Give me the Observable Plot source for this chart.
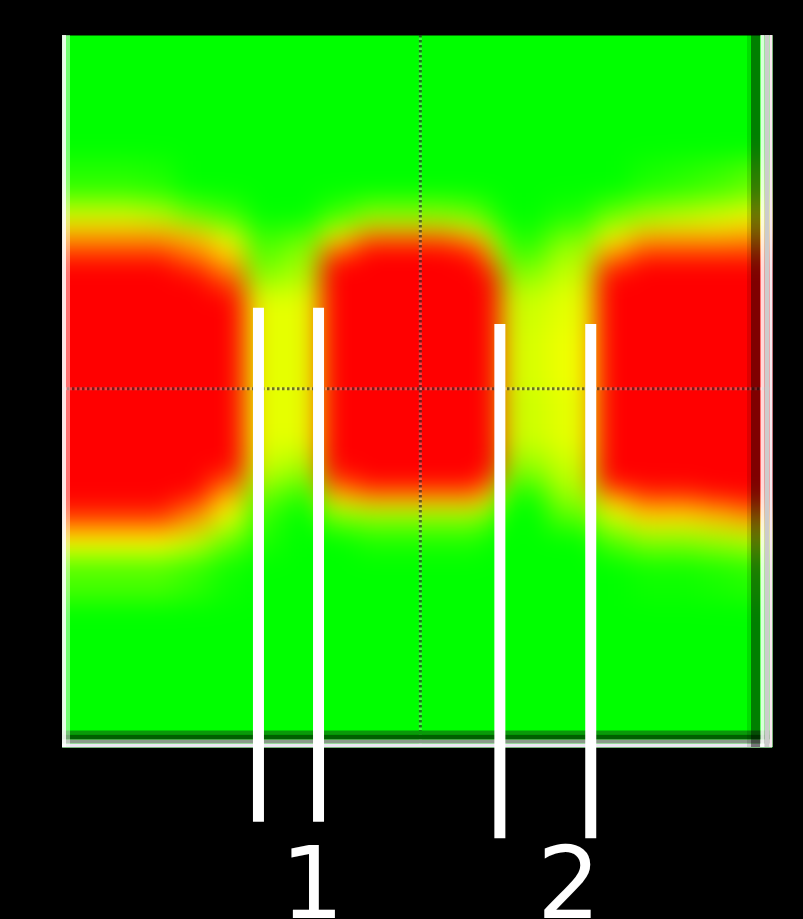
<!DOCTYPE html>
<html><head><meta charset="utf-8">
<style>html,body{margin:0;padding:0;background:#000;} svg{display:block}</style>
<script src="https://cdn.jsdelivr.net/npm/d3@7"></script>
<script src="https://cdn.jsdelivr.net/npm/@observablehq/plot@0.6"></script>
</head><body><div id="chart"></div>
<script>
// Field cell edges (0–100 field units; y measured from the top)
const colEdges = [0,5.35,10.99,15.92,20.85,25.77,30.99,36.34,41.27,46.2,50.42,55.35,59.58,61.69,68.31,75.07,80,84.93,89.86,94.79,100];
const rowEdges = [0,9.13,17.56,23.17,26.69,28.79,30.9,33.01,35.81,41.43,49.86,58.29,61.8,63.9,65.31,66.71,69.52,73.03,79.35,100];
// Intensity per cell (0 = green, 0.5 = yellow, >=1 = red)
const heat = [
  [0,0,0,0,0,0,0,0,0,0,0,0,0,0,0,0,0,0,0,0],
  [0,0,0,0,0,0,0,0,0,0,0,0,0,0,0,0,0,0,0,0],
  [0.08,0.08,0.06,0,0,0,0,0,0,0,0,0,0,0,0,0,0.05,0.08,0.12,0.18],
  [0.4,0.4,0.35,0.2,0.12,0,0,0.12,0.25,0.25,0.25,0.2,0.05,0,0.05,0.2,0.3,0.35,0.4,0.45],
  [0.65,0.65,0.65,0.6,0.4,0.1,0.15,0.45,0.65,0.65,0.65,0.55,0.3,0.05,0.2,0.45,0.6,0.6,0.6,0.65],
  [0.8,0.8,0.8,0.7,0.55,0.15,0.25,0.7,1.5,1.5,1.5,0.9,0.45,0.1,0.3,0.6,0.8,0.8,0.8,0.8],
  [1.5,1.5,1.5,0.85,0.65,0.2,0.3,1.5,1.5,1.5,1.5,1.5,0.7,0.2,0.35,0.85,1.5,1.5,1.5,1.5],
  [1.5,1.5,1.5,1.5,0.85,0.3,0.35,1.5,1.5,1.5,1.5,1.5,1.5,0.3,0.4,1.5,1.5,1.5,1.5,1.5],
  [1.5,1.5,1.5,1.5,1.5,0.45,0.45,1.5,1.5,1.5,1.5,1.5,1.5,0.4,0.45,1.5,1.5,1.5,1.5,1.5],
  [1.5,1.5,1.5,1.5,1.5,0.45,0.45,1.5,1.5,1.5,1.5,1.5,1.5,0.42,0.47,1.5,1.5,1.5,1.5,1.5],
  [1.5,1.5,1.5,1.5,1.5,0.45,0.45,1.5,1.5,1.5,1.5,1.5,1.5,0.4,0.45,1.5,1.5,1.5,1.5,1.5],
  [1.5,1.5,1.5,1.5,1.5,0.4,0.35,1.5,1.5,1.5,1.5,1.5,1.5,0.3,0.4,1.5,1.5,1.5,1.5,1.5],
  [1.5,1.5,1.5,1.5,0.8,0.3,0.2,0.85,1.5,1.5,1.5,1.5,0.7,0.15,0.35,1.5,1.5,1.5,1.5,1.5],
  [1.5,1.5,1.5,1.5,0.65,0.2,0.1,0.6,0.7,0.7,0.7,0.7,0.5,0.05,0.3,0.65,0.9,0.9,1.5,1.5],
  [1.5,1.5,1.5,0.8,0.55,0.15,0.05,0.45,0.55,0.55,0.55,0.55,0.35,0,0.25,0.55,0.7,0.7,0.75,0.9],
  [0.85,0.85,0.85,0.7,0.45,0.1,0,0.2,0.25,0.25,0.25,0.25,0.12,0,0.15,0.4,0.55,0.55,0.6,0.65],
  [0.5,0.5,0.5,0.4,0.2,0.05,0,0,0.05,0.05,0.05,0.05,0,0,0,0.15,0.25,0.25,0.3,0.35],
  [0.15,0.15,0.15,0.1,0.03,0,0,0,0,0,0,0,0,0,0,0,0.03,0.03,0.05,0.08],
  [0,0,0,0,0,0,0,0,0,0,0,0,0,0,0,0,0,0,0,0]
];
// White marker lines
const markerX = [27.6, 36.06, 61.6, 74.4];
const markerTop = [38.3, 38.3, 40.6, 40.6];
const markerBottom = [110.5, 110.5, 112.8, 112.8];
// Labels
const labels = ["1", "2"];
const labelX = [35.2, 71.3];
const labelY = [123.9, 123.9];
// Dotted centre guides
const guideX = [50.4];
const guideY = [49.6];

function cellValue(x, y) {
  const i = Math.max(0, Math.min(heat[0].length - 1, d3.bisectRight(colEdges, x) - 1));
  const j = Math.max(0, Math.min(heat.length - 1, d3.bisectRight(rowEdges, y) - 1));
  return heat[j][i];
}
const markers = markerX.map((x, i) => ({x, y1: markerTop[i], y2: markerBottom[i]}));
const labelData = labels.map((t, i) => ({t, x: labelX[i], y: labelY[i]}));

const chart = Plot.plot({
  width: 803, height: 919,
  marginLeft: 62, marginRight: 31, marginTop: 35, marginBottom: 172,
  style: {background: "#000"},
  x: {domain: [0, 100], axis: null},
  y: {domain: [0, 100], reverse: true, axis: null},
  color: {type: "linear", domain: [0, 0.5, 1], range: ["#00ff00", "#ffff00", "#ff0000"], clamp: true, interpolate: "rgb"},
  marks: [
    Plot.raster({fill: cellValue, x1: 0, x2: 100, y1: 0, y2: 100, blur: 12}),
    // dotted guides
    Plot.ruleX(guideX, {stroke: "#fff", strokeOpacity: 0.25, strokeWidth: 3}),
    Plot.ruleX(guideX, {stroke: "#000", strokeOpacity: 0.55, strokeWidth: 3, strokeDasharray: "2.5,2.5"}),
    Plot.ruleY(guideY, {stroke: "#fff", strokeOpacity: 0.25, strokeWidth: 3}),
    Plot.ruleY(guideY, {stroke: "#000", strokeOpacity: 0.55, strokeWidth: 3, strokeDasharray: "2.5,2.5"}),
    // bottom border strips
    Plot.ruleY([100], {stroke: "#0a9a0a", strokeWidth: 4, dy: -15}),
    Plot.ruleY([100], {stroke: "#006000", strokeWidth: 5, dy: -10.5}),
    Plot.ruleY([100], {stroke: "#8a9a8a", strokeWidth: 4, dy: -6}),
    Plot.ruleY([100], {stroke: "#ece6f2", strokeWidth: 4, dy: -2}),
    // right border strips (shading over the field)
    Plot.ruleX([100], {stroke: "#000", strokeOpacity: 0.12, strokeWidth: 4, dx: -23.5}),
    Plot.ruleX([100], {stroke: "#000", strokeOpacity: 0.5, strokeWidth: 9, dx: -17}),
    Plot.ruleX([100], {stroke: "#fff", strokeOpacity: 0.85, strokeWidth: 4, dx: -10}),
    Plot.ruleX([100], {stroke: "#cccccc", strokeWidth: 5, dx: -5.5}),
    Plot.ruleX([100], {stroke: "#f8e8f0", strokeWidth: 3, dx: -1.5}),
    // left border strips
    Plot.ruleX([0], {stroke: "#fff", strokeOpacity: 0.9, strokeWidth: 4, dx: 1.5}),
    Plot.ruleX([0], {stroke: "#fff", strokeOpacity: 0.45, strokeWidth: 4, dx: 5.5}),
    // white markers
    Plot.ruleX(markers, {x: "x", y1: "y1", y2: "y2", stroke: "#fff", strokeWidth: 11}),
    Plot.text(labelData, {x: "x", y: "y", text: "t", fill: "#fff", fontSize: 100, fontFamily: "DejaVu Sans", textAnchor: "middle", lineAnchor: "bottom"})
  ]
});
document.getElementById("chart").appendChild(chart);
</script>
</body></html>
